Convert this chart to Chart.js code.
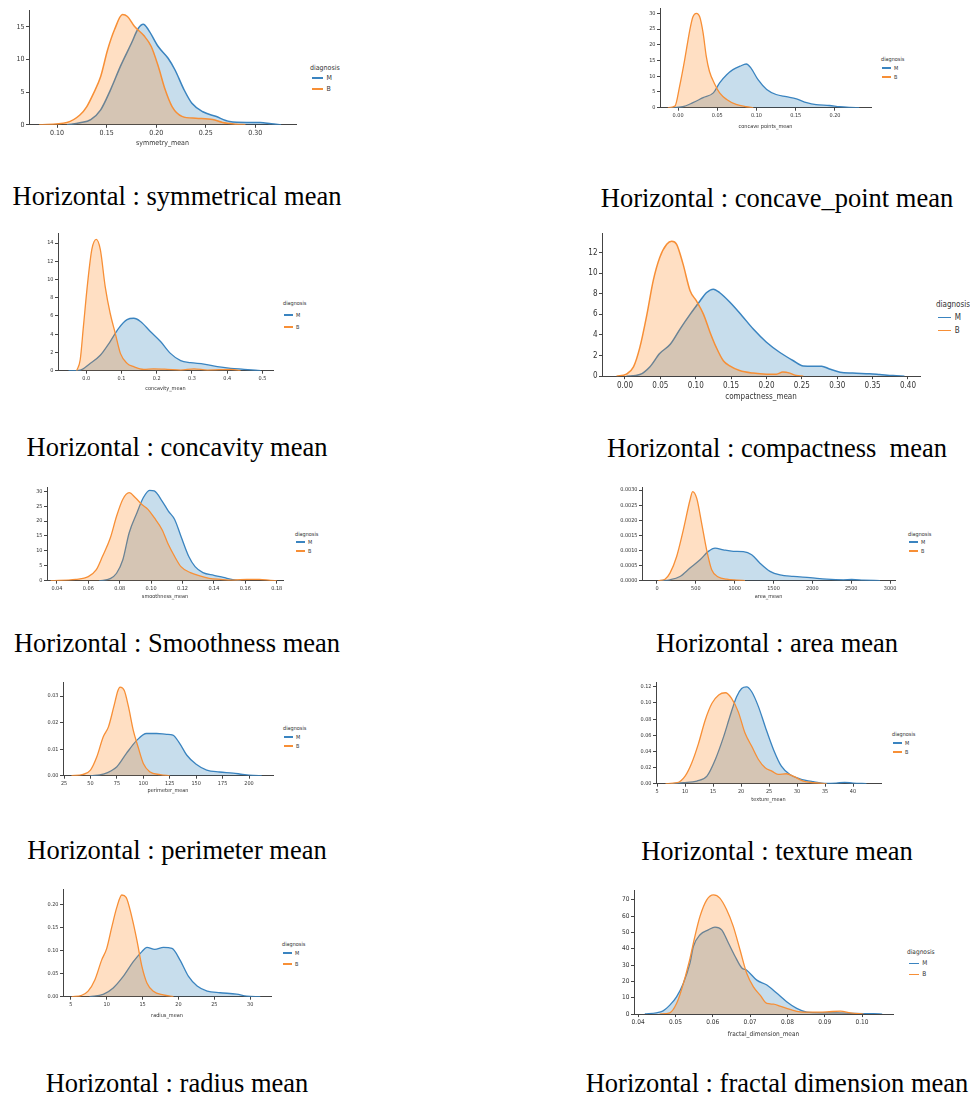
<!DOCTYPE html>
<html>
<head>
<meta charset="utf-8">
<script src="https://cdn.jsdelivr.net/npm/chart.js@4.4.0/dist/chart.umd.min.js"></script>
<style>
  body { margin: 0; background: #fff; width: 970px; height: 1097px; position: relative; overflow: hidden; }
  canvas { position: absolute; }
  .cap { position: absolute; width: 600px; text-align: center; font-family: 'Liberation Serif', 'Times New Roman', serif;
         font-size: 26.5px; line-height: 26px; white-space: pre; color: #000; }
  .lg { position: absolute; font-family: 'DejaVu Sans Condensed', 'Liberation Sans Narrow', 'DejaVu Sans', sans-serif;
        color: #333; white-space: nowrap; }
  .lg .ln { display: inline-block; vertical-align: middle; height: 1.4px; }
</style>
</head>
<body>
<script>
// ---- symmetry_mean
const symM_x = [0.110, 0.123, 0.134, 0.144, 0.154, 0.164, 0.175, 0.182, 0.187, 0.192, 0.202, 0.212, 0.219, 0.228, 0.236, 0.247, 0.260, 0.274, 0.291, 0.305, 0.316, 0.326];
const symM_y = [0, 0.3, 0.8, 2.3, 5.4, 9.0, 12.5, 14.8, 15.4, 14.6, 12.0, 10.2, 8.4, 5.4, 3.3, 2.0, 1.3, 0.5, 0.36, 0.36, 0.15, 0];
const symB_x = [0.082, 0.110, 0.123, 0.130, 0.137, 0.144, 0.151, 0.158, 0.166, 0.171, 0.178, 0.188, 0.195, 0.202, 0.209, 0.216, 0.226, 0.240, 0.257, 0.267, 0.281, 0.290];
const symB_y = [0, 0.36, 1.5, 2.8, 4.9, 7.4, 11.5, 14.6, 16.9, 16.6, 15.1, 13.6, 12.0, 9.0, 5.4, 2.8, 1.3, 1.0, 0.8, 0.36, 0.1, 0];
const symTicksX = ['0.10', '0.15', '0.20', '0.25', '0.30'];
const symTicksY = ['0', '5', '10', '15'];

// ---- concave points_mean
const cpM_x = [-0.011, 0.006, 0.019, 0.032, 0.045, 0.053, 0.062, 0.070, 0.079, 0.087, 0.093, 0.102, 0.113, 0.125, 0.138, 0.151, 0.164, 0.176, 0.193, 0.206, 0.219, 0.231];
const cpM_y = [0, 0.3, 1.6, 3.2, 4.7, 7.9, 10.5, 12.1, 13.2, 13.9, 12.6, 8.9, 5.8, 4.2, 3.5, 2.8, 1.6, 0.95, 0.7, 0.3, 0.1, 0];
const cpB_x = [-0.013, -0.004, 0.002, 0.0085, 0.015, 0.019, 0.0234, 0.0276, 0.032, 0.036, 0.040, 0.047, 0.053, 0.062, 0.074, 0.087, 0.096];
const cpB_y = [0, 0.5, 6.8, 15.3, 24.7, 28.9, 30, 28.9, 23.7, 16.3, 11.6, 7.4, 4.7, 2.6, 1.05, 0.3, 0];
const cpTicksX = ['0.00', '0.05', '0.10', '0.15', '0.20'];
const cpTicksY = ['0', '5', '10', '15', '20', '25', '30'];

// ---- concavity_mean
const cvM_x = [-0.05, -0.017, 0.011, 0.040, 0.068, 0.092, 0.116, 0.135, 0.154, 0.182, 0.211, 0.239, 0.268, 0.296, 0.334, 0.372, 0.410, 0.448, 0.495];
const cvM_y = [0, 0.07, 0.8, 1.7, 3.2, 4.65, 5.6, 5.75, 5.4, 4.3, 3.2, 1.9, 1.1, 0.88, 0.73, 0.44, 0.26, 0.15, 0];
const cvB_x = [-0.027, -0.017, -0.008, 0.004, 0.016, 0.0285, 0.040, 0.054, 0.068, 0.0825, 0.097, 0.116, 0.135, 0.163, 0.192, 0.230, 0.268, 0.306, 0.344, 0.410, 0.438];
const cvB_y = [0, 1.2, 4.8, 9.6, 13.3, 14.4, 13.3, 9.2, 6.3, 4.1, 1.9, 0.8, 0.44, 0.15, 0.2, 0.15, 0.07, 0.2, 0.07, 0.15, 0];
const cvTicksX = ['0.0', '0.1', '0.2', '0.3', '0.4', '0.5'];
const cvTicksY = ['0', '2', '4', '6', '8', '10', '12', '14'];

// ---- compactness_mean
const cmM_x = [0.002, 0.021, 0.035, 0.049, 0.064, 0.078, 0.092, 0.106, 0.115, 0.125, 0.134, 0.148, 0.165, 0.181, 0.200, 0.219, 0.238, 0.252, 0.266, 0.278, 0.289, 0.304, 0.322, 0.346, 0.360, 0.379, 0.395];
const cmM_y = [0, 0.16, 0.9, 2.2, 3.1, 4.6, 6.0, 7.3, 8.1, 8.45, 8.1, 7.2, 5.9, 4.6, 3.3, 2.3, 1.5, 1.0, 0.97, 0.97, 0.7, 0.39, 0.3, 0.23, 0.16, 0.06, 0];
const cmB_x = [-0.012, 0.002, 0.012, 0.021, 0.031, 0.040, 0.049, 0.059, 0.066, 0.073, 0.082, 0.092, 0.101, 0.111, 0.120, 0.129, 0.139, 0.148, 0.162, 0.181, 0.200, 0.214, 0.223, 0.233, 0.242, 0.252];
const cmB_y = [0, 0.2, 0.9, 2.8, 6.0, 9.3, 11.5, 12.8, 13.1, 12.8, 10.9, 8.3, 7.3, 6.0, 4.3, 2.8, 1.5, 1.0, 0.55, 0.3, 0.2, 0.2, 0.4, 0.3, 0.06, 0];
const cmTicksX = ['0.00', '0.05', '0.10', '0.15', '0.20', '0.25', '0.30', '0.35', '0.40'];
const cmTicksY = ['0', '2', '4', '6', '8', '10', '12'];

// ---- smoothness_mean
const smM_x = [0.067, 0.074, 0.078, 0.082, 0.086, 0.091, 0.095, 0.099, 0.102, 0.107, 0.111, 0.115, 0.119, 0.124, 0.128, 0.133, 0.140, 0.146, 0.152, 0.157];
const smM_y = [0, 0.7, 2.5, 7.0, 16.0, 22.8, 27.8, 30.3, 30.1, 26.7, 23.3, 20.5, 14.9, 8.1, 4.7, 2.7, 1.8, 1.1, 0.34, 0];
const smB_x = [0.036, 0.052, 0.060, 0.065, 0.069, 0.074, 0.078, 0.082, 0.086, 0.090, 0.094, 0.098, 0.102, 0.107, 0.111, 0.115, 0.119, 0.125, 0.131, 0.137, 0.144, 0.152, 0.161, 0.169, 0.176, 0.180];
const smB_y = [0, 0.45, 1.35, 3.6, 8.1, 14.3, 21.6, 27.3, 29.5, 27.8, 25.6, 23.9, 21.1, 17.1, 12.1, 8.1, 4.7, 2.7, 1.6, 0.8, 0.45, 0.2, 0.45, 0.45, 0.1, 0];
const smTicksX = ['0.04', '0.06', '0.08', '0.10', '0.12', '0.14', '0.16', '0.18'];
const smTicksY = ['0', '5', '10', '15', '20', '25', '30'];

// ---- area_mean
const arM_x = [39, 167, 296, 425, 554, 661, 747, 854, 983, 1112, 1219, 1326, 1455, 1584, 1755, 1970, 2185, 2399, 2506, 2657, 2871];
const arM_y = [0, 0.00003, 0.00014, 0.00042, 0.00069, 0.00097, 0.00108, 0.00102, 0.00097, 0.00096, 0.00086, 0.00058, 0.00031, 0.00019, 0.00014, 0.0001, 0.00005, 0.00003, 0.00004, 0.00002, 0];
const arB_x = [17, 103, 167, 253, 339, 425, 459, 511, 575, 639, 704, 790, 897, 1026, 1133];
const arB_y = [0, 0.00005, 0.00025, 0.0008, 0.00168, 0.00267, 0.00295, 0.00273, 0.0019, 0.00102, 0.00036, 0.00012, 0.00005, 0.00002, 0];
const arTicksX = ['0', '500', '1000', '1500', '2000', '2500', '3000'];
const arTicksY = ['0.0000', '0.0005', '0.0010', '0.0015', '0.0020', '0.0025', '0.0030'];

// ---- perimeter_mean
const prM_x = [50, 62, 75, 84, 94, 103, 112.5, 122, 128, 134.5, 141, 150, 160, 172, 185, 194, 204, 212];
const prM_y = [0, 0.0006, 0.0034, 0.0084, 0.0134, 0.0159, 0.0159, 0.0156, 0.0153, 0.0121, 0.0078, 0.0043, 0.0021, 0.0014, 0.001, 0.0005, 0.0001, 0];
const prB_x = [32, 43, 50, 56, 62, 67, 72, 76, 78, 82, 86, 90.5, 95, 100, 106, 116, 125];
const prB_y = [0, 0.0005, 0.0021, 0.0071, 0.0146, 0.0184, 0.0259, 0.0321, 0.0334, 0.0321, 0.0259, 0.0171, 0.0109, 0.0046, 0.0015, 0.0004, 0];
const prTicksX = ['25', '50', '75', '100', '125', '150', '175', '200'];
const prTicksY = ['0.00', '0.01', '0.02', '0.03'];

// ---- texture_mean
const txM_x = [7.4, 9.7, 12.1, 13.9, 15.4, 16.9, 18, 19.2, 20.1, 21, 21.9, 23.1, 24.3, 25.8, 27.2, 28.7, 30.5, 32.9, 35.2, 37, 38.5, 40, 42.4];
const txM_y = [0, 0.0012, 0.0033, 0.0094, 0.030, 0.0586, 0.0832, 0.1078, 0.118, 0.12, 0.1139, 0.0955, 0.0709, 0.0422, 0.0217, 0.0115, 0.0061, 0.0025, 0.0004, 0.0008, 0.0016, 0.0008, 0];
const txB_x = [6.5, 8.6, 10, 11.2, 12.4, 13.6, 14.8, 16, 17.2, 18.3, 19.5, 20.7, 21.9, 23.1, 24.3, 25.5, 26.6, 28.1, 29.3, 31.1, 32.9, 35.3];
const txB_y = [0, 0.0012, 0.0094, 0.026, 0.050, 0.079, 0.0996, 0.110, 0.1127, 0.1057, 0.089, 0.0627, 0.0463, 0.030, 0.0197, 0.0156, 0.0115, 0.0123, 0.0094, 0.0033, 0.0012, 0];
const txTicksX = ['5', '10', '15', '20', '25', '30', '35', '40'];
const txTicksY = ['0.00', '0.02', '0.04', '0.06', '0.08', '0.10', '0.12'];

// ---- radius_mean
const rdM_x = [7.6, 9.5, 10.9, 12.3, 13.7, 14.9, 15.6, 16.7, 17.9, 19.1, 20.2, 21.4, 22.6, 24, 25.8, 28.1, 29.5, 31.4];
const rdM_y = [0, 0.005, 0.019, 0.044, 0.076, 0.098, 0.107, 0.103, 0.107, 0.105, 0.08, 0.044, 0.023, 0.012, 0.0086, 0.0057, 0.0014, 0];
const rdB_x = [5.1, 6.5, 7.4, 8.35, 9.3, 10, 10.7, 11.4, 12.1, 12.7, 13.5, 14.2, 14.9, 15.6, 16.5, 17.9, 19.3];
const rdB_y = [0, 0.003, 0.012, 0.037, 0.08, 0.105, 0.151, 0.194, 0.221, 0.216, 0.173, 0.123, 0.066, 0.03, 0.012, 0.004, 0];
const rdTicksX = ['5', '10', '15', '20', '25', '30'];
const rdTicksY = ['0.00', '0.05', '0.10', '0.15', '0.20'];

// ---- fractal_dimension_mean
const fdM_x = [0.0418, 0.0449, 0.0467, 0.0485, 0.0503, 0.0521, 0.0539, 0.0548, 0.0566, 0.0588, 0.0606, 0.0624, 0.0642, 0.066, 0.0678, 0.0691, 0.0718, 0.0745, 0.0772, 0.0798, 0.0825, 0.0852, 0.0888, 0.0933, 0.0977, 0.1031, 0.1054];
const fdM_y = [0.2, 0.8, 2.0, 5.5, 10.6, 18.8, 31.2, 41.4, 48.6, 51.6, 53.3, 51.6, 43.5, 35.3, 28.2, 26.9, 20.8, 17.8, 12.7, 7.6, 3.5, 1.2, 0.8, 0.8, 0.4, 0.2, 0];
const fdB_x = [0.0458, 0.0485, 0.0503, 0.0516, 0.0538, 0.0552, 0.0566, 0.0584, 0.0602, 0.0619, 0.0637, 0.0655, 0.0673, 0.0691, 0.0709, 0.0727, 0.0745, 0.0763, 0.078, 0.0807, 0.0834, 0.087, 0.0906, 0.0942, 0.0969, 0.1004];
const fdB_y = [0, 0.8, 6.5, 14.7, 33, 47.5, 60, 70, 73, 71, 64, 53.7, 39.4, 25, 16.7, 11.6, 6.5, 6.1, 4.9, 2.9, 1.4, 1.2, 1.4, 1.8, 0.8, 0];
const fdTicksX = ['0.04', '0.05', '0.06', '0.07', '0.08', '0.09', '0.10'];
const fdTicksY = ['0', '10', '20', '30', '40', '50', '60', '70'];

const BLUE = '#3a84c0';
const ORANGE = '#f78f36';
const BLUE_FILL = 'rgba(31,119,180,0.25)';
const ORANGE_FILL = 'rgba(255,127,14,0.25)';
const AXIS = '#444';
const TICK_FONT = "'DejaVu Sans Condensed', 'Liberation Sans Narrow', 'DejaVu Sans', sans-serif";

function kdePanel(p) {
    const PAD_T = 10, PAD_R = 10, YW = 30;
    const lh = p.fs * 1.2;
    const xh = (p.labelY - p.bottom) + lh / 2;
    const w = Math.round((p.right - p.left) + YW + PAD_R);
    const h = Math.round(PAD_T + (p.bottom - p.top) + xh);

    const cv = document.createElement('canvas');
    cv.width = w; cv.height = h;
    cv.style.left = (p.left - YW) + 'px';
    cv.style.top = (p.top - PAD_T) + 'px';
    cv.style.width = w + 'px'; cv.style.height = h + 'px';
    document.body.appendChild(cv);

    const font = { family: TICK_FONT, size: p.fs };
    const ds = (xs, ys, color, fill, order) => ({
        data: xs.map((x, i) => ({ x: x, y: ys[i] })),
        borderColor: color,
        backgroundColor: fill,
        borderWidth: p.lw || 1.3,
        fill: 'origin',
        pointRadius: 0,
        cubicInterpolationMode: 'monotone',
        order: order
    });
    const axis = (ticks, min, max, isX) => ({
        type: 'linear',
        min: min,
        max: max,
        afterBuildTicks: s => { s.ticks = ticks.map(t => ({ value: Number(t) })); },
        afterFit: s => { if (isX) s.height = xh; else s.width = YW; },
        ticks: { font: font, color: '#333', padding: 1.5, autoSkip: false, maxRotation: 0,
                 callback: (v, i) => ticks[i] },
        grid: { display: true, drawOnChartArea: false, drawTicks: true, tickLength: 3, color: AXIS },
        border: { display: true, color: AXIS, width: 1 },
        title: isX ? { display: true, text: p.xLabel, font: font, color: '#333', padding: 0 } : { display: false }
    });

    new Chart(cv, {
        type: 'line',
        data: { datasets: [ds(p.mx, p.my, BLUE, BLUE_FILL, 2), ds(p.bx, p.by, ORANGE, ORANGE_FILL, 1)] },
        options: {
            responsive: false,
            animation: false,
            events: [],
            layout: { padding: { top: PAD_T, right: PAD_R, left: 0, bottom: 0 } },
            plugins: { legend: { display: false }, tooltip: { enabled: false } },
            scales: {
                x: axis(p.xt, p.xMin, p.xMax, true),
                y: axis(p.yt, 0, p.yMax, false)
            }
        }
    });

    // legend (seaborn style, outside the axes)
    const lg = (y, html) => {
        const d = document.createElement('div');
        d.className = 'lg';
        d.style.fontSize = p.fs + 'px';
        d.style.lineHeight = lh + 'px';
        d.style.left = p.lgX + 'px';
        d.style.top = (y - lh / 2) + 'px';
        d.innerHTML = html;
        document.body.appendChild(d);
    };
    const entry = (color, txt) => '<span class="ln" style="width:' + (p.fs * 1.6) + 'px;background:' + color +
        ';margin-left:' + (p.fs * 0.25) + 'px;margin-right:' + (p.fs * 0.5) + 'px"></span>' + txt;
    lg(p.lgY[0], 'diagnosis');
    lg(p.lgY[1], entry(BLUE, 'M'));
    lg(p.lgY[2], entry(ORANGE, 'B'));
}

function caption(cx, baseline, text) {
    const d = document.createElement('div');
    d.className = 'cap';
    d.style.left = (cx - 300) + 'px';
    d.style.top = (baseline - 22) + 'px';
    d.textContent = text;
    document.body.appendChild(d);
}

kdePanel({ left: 29, right: 296, top: 10, bottom: 125, xMin: 0.0717, xMax: 0.341, yMax: 17.6,
    mx: symM_x, my: symM_y, bx: symB_x, by: symB_y, xt: symTicksX, yt: symTicksY,
    xLabel: 'symmetry_mean', labelY: 143, fs: 7, lw: 1.5, lgX: 310, lgY: [68, 78, 89] });
kdePanel({ left: 660, right: 871, top: 8, bottom: 108, xMin: -0.023, xMax: 0.246, yMax: 31.7,
    mx: cpM_x, my: cpM_y, bx: cpB_x, by: cpB_y, xt: cpTicksX, yt: cpTicksY,
    xLabel: 'concave points_mean', labelY: 127, fs: 5.5, lgX: 881, lgY: [59, 68, 77] });
kdePanel({ left: 58, right: 273, top: 233, bottom: 371, xMin: -0.08, xMax: 0.53, yMax: 15.1,
    mx: cvM_x, my: cvM_y, bx: cvB_x, by: cvB_y, xt: cvTicksX, yt: cvTicksY,
    xLabel: 'concavity_mean', labelY: 389, fs: 5.5, lgX: 283, lgY: [303, 315, 327] });
kdePanel({ left: 602, right: 920, top: 233, bottom: 376, xMin: -0.0325, xMax: 0.417, yMax: 13.9,
    mx: cmM_x, my: cmM_y, bx: cmB_x, by: cmB_y, xt: cmTicksX, yt: cmTicksY,
    xLabel: 'compactness_mean', labelY: 397, fs: 8, lw: 1.5, lgX: 936, lgY: [305, 318, 331] });
kdePanel({ left: 47, right: 283, top: 487, bottom: 581, xMin: 0.0337, xMax: 0.184, yMax: 31.4,
    mx: smM_x, my: smM_y, bx: smB_x, by: smB_y, xt: smTicksX, yt: smTicksY,
    xLabel: 'smoothness_mean', labelY: 597, fs: 5.5, lgX: 295, lgY: [534, 542, 551] });
kdePanel({ left: 642, right: 895, top: 487, bottom: 581, xMin: -193, xMax: 3064, yMax: 0.0031,
    mx: arM_x, my: arM_y, bx: arB_x, by: arB_y, xt: arTicksX, yt: arTicksY,
    xLabel: 'area_mean', labelY: 597, fs: 5.5, lgX: 908, lgY: [534, 542, 551] });
kdePanel({ left: 63, right: 273, top: 682, bottom: 776, xMin: 24, xMax: 222.7, yMax: 0.0353,
    mx: prM_x, my: prM_y, bx: prB_x, by: prB_y, xt: prTicksX, yt: prTicksY,
    xLabel: 'perimeter_mean', labelY: 791, fs: 5.5, lgX: 283, lgY: [728, 737, 746] });
kdePanel({ left: 656, right: 881, top: 682, bottom: 784, xMin: 4.8, xMax: 45, yMax: 0.126,
    mx: txM_x, my: txM_y, bx: txB_x, by: txB_y, xt: txTicksX, yt: txTicksY,
    xLabel: 'texture_mean', labelY: 800, fs: 5.5, lgX: 892, lgY: [734, 743, 752] });
kdePanel({ left: 63, right: 271, top: 889, bottom: 997, xMin: 3.9, xMax: 32.9, yMax: 0.234,
    mx: rdM_x, my: rdM_y, bx: rdB_x, by: rdB_y, xt: rdTicksX, yt: rdTicksY,
    xLabel: 'radius_mean', labelY: 1016, fs: 5.5, lgX: 282, lgY: [944, 953, 964] });
kdePanel({ left: 634, right: 893, top: 890, bottom: 1014, xMin: 0.0389, xMax: 0.1083, yMax: 76,
    mx: fdM_x, my: fdM_y, bx: fdB_x, by: fdB_y, xt: fdTicksX, yt: fdTicksY,
    xLabel: 'fractal_dimension_mean', labelY: 1034, fs: 6.5, lgX: 907, lgY: [953, 964, 975] });

caption(177, 205, 'Horizontal : symmetrical mean');
caption(777, 207, 'Horizontal : concave_point mean');
caption(177, 456, 'Horizontal : concavity mean');
caption(777, 457, 'Horizontal : compactness  mean');
caption(177, 652, 'Horizontal : Smoothness mean');
caption(777, 652, 'Horizontal : area mean');
caption(177, 859, 'Horizontal : perimeter mean');
caption(777, 860, 'Horizontal : texture mean');
caption(177, 1092, 'Horizontal : radius mean');
caption(777, 1092, 'Horizontal : fractal dimension mean');
</script>
</body>
</html>
